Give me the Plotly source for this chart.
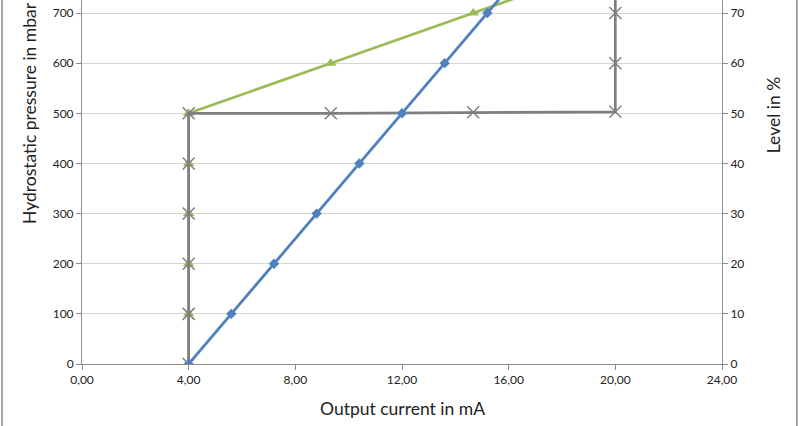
import plotly.graph_objects as go

# Output current (mA) vs hydrostatic pressure (mbar) / level (%)
current_ticks = [0, 4, 8, 12, 16, 20, 24]
current_labels = ["0,00", "4,00", "8,00", "12,00", "16,00", "20,00", "24,00"]

pressure_x = [4.0, 5.6, 7.2, 8.8, 10.4, 12.0, 13.6, 15.2, 16.8, 18.4, 20.0]
pressure_y = [0, 100, 200, 300, 400, 500, 600, 700, 800, 900, 1000]

# level line drawn against the mbar scale (10 % = 100 mbar on the twin axis)
level_x = [4, 4, 4, 4, 4, 4, 9.33, 14.67, 20]
level_y = [0, 100, 200, 300, 400, 500, 600, 700, 800]

step_x = [4, 4, 4, 4, 4, 4, 9.33, 14.67, 20, 20, 20, 20]
step_y = [0, 100, 200, 300, 400, 500, 500, 502, 503, 600, 700, 800]

FONT = "Lato, 'Open Sans', sans-serif"
AXIS_GREY = "#8c8c8c"

fig = go.Figure()

fig.add_trace(go.Scatter(
    x=level_x, y=level_y, mode="lines+markers",
    line=dict(color="#9bbb59", width=2.7),
    marker=dict(symbol="triangle-up", size=10, color="#9bbb59"),
))
fig.add_trace(go.Scatter(
    x=step_x, y=step_y, mode="lines+markers",
    line=dict(color="#7f7f7f", width=2.7),
    marker=dict(symbol="x-thin-open", size=12,
                line=dict(color="#9a9a9a", width=1.5)),
))
fig.add_trace(go.Scatter(
    x=pressure_x, y=pressure_y, mode="lines+markers",
    line=dict(color="#4f81bd", width=2.8),
    marker=dict(symbol="diamond", size=8, color="#4f81bd"),
))
# invisible trace to carry the right-hand % axis
fig.add_trace(go.Scatter(x=[0], y=[0], yaxis="y2", mode="markers",
                         marker=dict(opacity=0), hoverinfo="skip"))

fig.update_layout(
    width=800, height=426,
    margin=dict(l=82, r=78, t=0, b=62),
    paper_bgcolor="white", plot_bgcolor="white",
    showlegend=False,
    font=dict(family=FONT, size=12, color="#222"),
    xaxis=dict(
        range=[0, 24], tickvals=current_ticks, ticktext=current_labels,
        showgrid=False, zeroline=False, showline=True, linecolor=AXIS_GREY,
        linewidth=1, ticks="outside", ticklen=5, tickcolor=AXIS_GREY,
    ),
    yaxis=dict(
        range=[0, 726], dtick=100, showgrid=True, gridcolor="#d4d4d4",
        zeroline=False, showline=True, linecolor=AXIS_GREY, linewidth=1,
        ticks="outside", ticklen=5, tickcolor=AXIS_GREY,
    ),
    yaxis2=dict(
        range=[0, 72.6], dtick=10, overlaying="y", side="right",
        showgrid=False, zeroline=False, showline=True, linecolor=AXIS_GREY,
        linewidth=1, ticks="outside", ticklen=5, tickcolor=AXIS_GREY,
    ),
    annotations=[
        dict(text="Output current in mA", xref="paper", yref="paper",
             x=0.5, y=-0.122, xanchor="center", yanchor="middle",
             showarrow=False, font=dict(size=17.5)),
        dict(text="Hydrostatic pressure in mbar", xref="paper", yref="paper",
             x=-0.081, y=0.69, xanchor="center", yanchor="middle",
             textangle=-90, showarrow=False, font=dict(size=17.5)),
        dict(text="Level in %", xref="paper", yref="paper",
             x=1.08, y=0.684, xanchor="center", yanchor="middle",
             textangle=-90, showarrow=False, font=dict(size=17.5)),
    ],
    shapes=[
        dict(type="line", xref="paper", yref="paper", x0=-0.125, x1=-0.125,
             y0=-0.2, y1=1.0, line=dict(color="#8a8a8a", width=1.5)),
        dict(type="line", xref="paper", yref="paper", x0=1.117, x1=1.117,
             y0=-0.2, y1=1.0, line=dict(color="#8a8a8a", width=1.5)),
    ],
)

fig.write_html("out.html", config={"displayModeBar": False},
               post_script="document.body.style.margin='0';")
